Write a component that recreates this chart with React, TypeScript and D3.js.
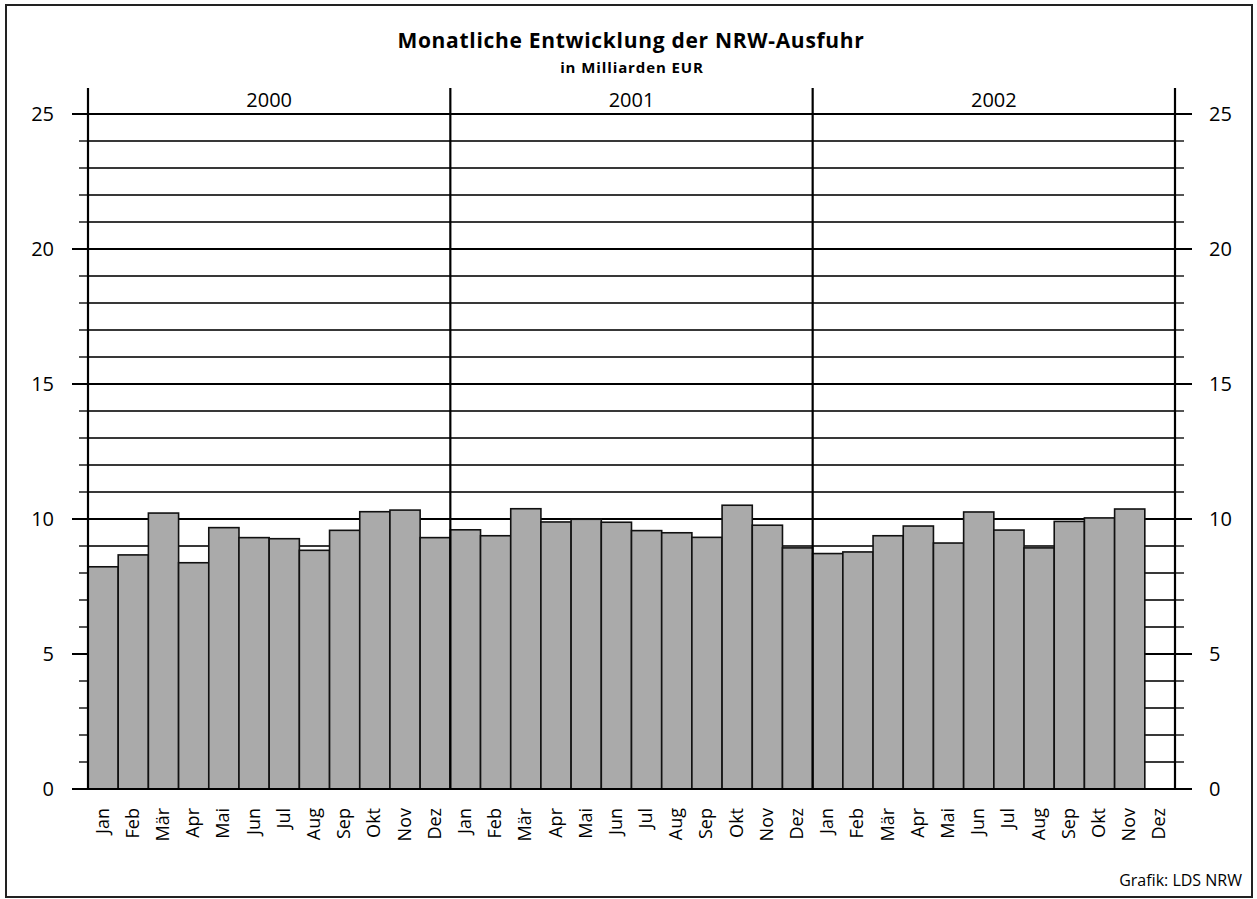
import React from "react"
import * as d3 from "d3"

// monthly NRW exports, bn EUR
const years = ["2000", "2001", "2002"]
const months = ["Jan", "Feb", "Mär", "Apr", "Mai", "Jun", "Jul", "Aug", "Sep", "Okt", "Nov", "Dez"]
const values2000 = [8.23, 8.67, 10.22, 8.38, 9.68, 9.31, 9.27, 8.84, 9.58, 10.27, 10.33, 9.31]
const values2001 = [9.6, 9.38, 10.38, 9.89, 9.99, 9.88, 9.57, 9.49, 9.32, 10.51, 9.77, 8.93]
const values2002 = [8.72, 8.78, 9.38, 9.74, 9.11, 10.26, 9.59, 8.93, 9.91, 10.04, 10.37, null]
const yTicks = [0, 5, 10, 15, 20, 25]

const W = 1257
const H = 899
const FONT = "'Open Sans', 'Noto Sans', sans-serif"

export default function App() {
  const left = 88
  const right = 1175
  const top = 114
  const bottom = 789

  const series = [values2000, values2001, values2002]
  const data = series.flatMap((vals, yi) =>
    vals.map((v, mi) => ({ key: years[yi] + "-" + mi, month: months[mi], year: years[yi], value: v }))
  )

  const x = d3.scaleBand<string>().domain(data.map(d => d.key)).range([left, right]).padding(0)
  const y = d3.scaleLinear().domain([0, 25]).range([bottom, top])
  const minor = d3.range(0, 26, 1)
  const bw = x.bandwidth()

  // year dividers sit at the start of each January slot
  const dividers = years.map(yr => x(yr + "-0")!)

  return (
    <div style={{ position: "absolute", left: 0, top: 0 }}>
      <svg width={W} height={H} style={{ display: "block", fontFamily: FONT }}>
        <rect x={0} y={0} width={W} height={H} fill="#fff" />
        <rect x={6} y={5} width={1246} height={892} fill="none" stroke="#222" strokeWidth={2} />

        <text x={631} y={48} textAnchor="middle" fontSize={21} fontWeight="bold" letterSpacing={0.7}>
          Monatliche Entwicklung der NRW-Ausfuhr
        </text>
        <text x={632} y={73} textAnchor="middle" fontSize={15} fontWeight="bold" letterSpacing={0.9}>
          in Milliarden EUR
        </text>

        {/* grid */}
        {minor.map(v => {
          const major = v % 5 === 0
          return (
            <g key={"g" + v}>
              <line x1={left} x2={right} y1={y(v)} y2={y(v)}
                stroke={major ? "#000" : "#383838"} strokeWidth={2} />
              <line x1={major ? 72 : 79} x2={left} y1={y(v)} y2={y(v)}
                stroke={major ? "#000" : "#555"} strokeWidth={2} />
              <line x1={right} x2={major ? 1192 : 1184} y1={y(v)} y2={y(v)}
                stroke={major ? "#000" : "#555"} strokeWidth={2} />
            </g>
          )
        })}

        {/* bars */}
        {data.filter(d => d.value != null).map(d => (
          <rect key={d.key} x={x(d.key)!} y={y(d.value as number)} width={bw}
            height={bottom - y(d.value as number)} fill="#aaaaaa" stroke="#111" strokeWidth={1.6} />
        ))}

        {/* axes and year dividers */}
        {dividers.map((dx, i) => (
          <line key={"d" + i} x1={dx} x2={dx} y1={88} y2={bottom} stroke="#000" strokeWidth={2.2} />
        ))}
        <line x1={right} x2={right} y1={88} y2={bottom} stroke="#000" strokeWidth={2.2} />
        <line x1={72} x2={1192} y1={bottom} y2={bottom} stroke="#000" strokeWidth={2.2} />

        {years.map((yr, i) => {
          const x0 = dividers[i]
          const x1 = i < years.length - 1 ? dividers[i + 1] : right
          return (
            <text key={"y" + yr} x={(x0 + x1) / 2} y={107} textAnchor="middle" fontSize={20}>
              {yr}
            </text>
          )
        })}

        {yTicks.map(t => (
          <g key={"t" + t}>
            <text x={54} y={y(t) + 7} textAnchor="end" fontSize={20}>{t}</text>
            <text x={1209} y={y(t) + 7} textAnchor="start" fontSize={20}>{t}</text>
          </g>
        ))}

        {data.map(d => {
          const cx = x(d.key)! + bw / 2
          return (
            <text key={"m" + d.key} transform={`translate(${cx + 5.5},808) rotate(-90)`}
              textAnchor="end" fontSize={18}>
              {d.month}
            </text>
          )
        })}

        <text x={1242} y={886} textAnchor="end" fontSize={16}>Grafik: LDS NRW</text>
      </svg>
    </div>
  )
}
